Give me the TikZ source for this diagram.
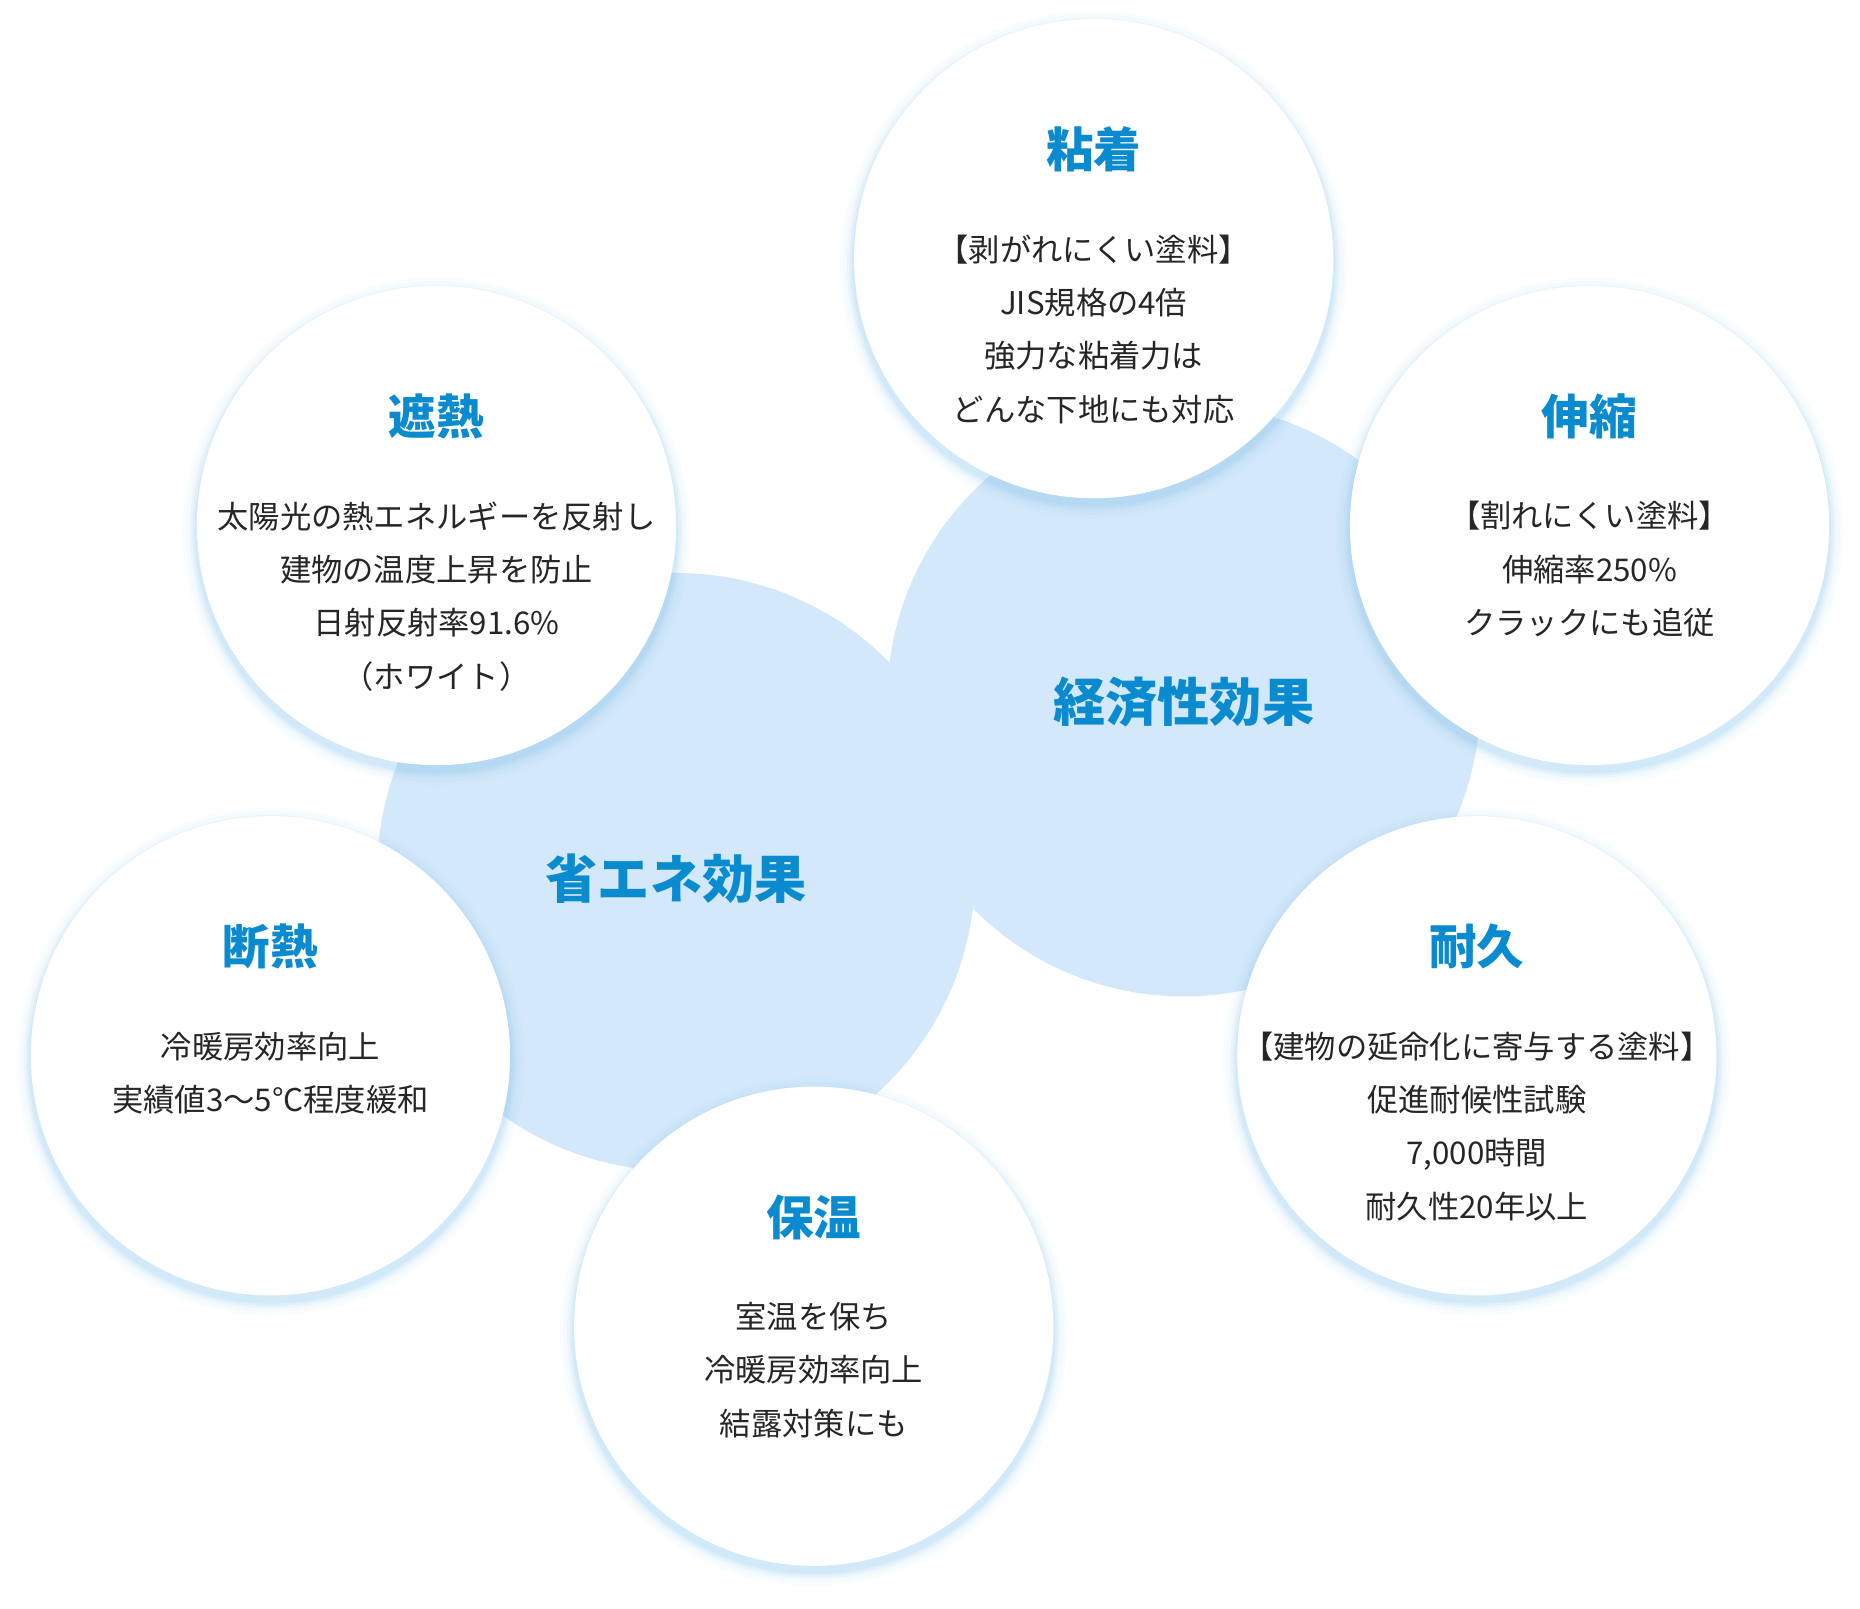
\documentclass[tikz,border=0pt]{standalone}
\usepackage{fontspec}
\setmainfont{Noto Sans CJK JP}
\usetikzlibrary{calc}
\definecolor{titleblue}{HTML}{0A8BD0}
\definecolor{bigfill}{HTML}{D3E8FA}
\definecolor{glowblue}{HTML}{8CC8EE}
\tikzset{
  bigcircle/.style={fill=bigfill, draw=none},
  featcircle/.style={fill=white, draw=none},
  titletext/.style={text=titleblue, font=\fontsize{11.4}{13}\selectfont\bfseries},
  bodytext/.style={text=black!85, align=center, inner sep=0pt, anchor=north,
    font=\fontsize{7.5}{12.8}\selectfont}
}
\newcommand{\featurecircle}[5]{%
  \coordinate (#1) at (#2,#3);
  \foreach \g/\o in {12/0.04,9/0.06,6/0.09,4/0.12,2/0.16}
    \fill[glowblue, opacity=\o] ($(#1)+(0,5)$) circle (202+\g);
  \fill[featcircle] (#1) circle (202);
  \node[titletext] (#1-title) at ($(#1)+(0,-92)$) {#4};
  \node[bodytext] (#1-body) at ($(#1)+(0,-21)$) {#5};
}
\begin{document}
\begin{tikzpicture}[x=0.01cm, y=-0.01cm]
  \useasboundingbox (0,0) rectangle (1568,1356);
  % two effect circles
  \fill[bigcircle] (570,735) circle (252);
  \fill[bigcircle] (998,590) circle (250);
  \node[titletext, font=\fontsize{12.5}{14}\selectfont\bfseries] (saving) at (570,741) {省エネ効果};
  \node[titletext, font=\fontsize{12.5}{14}\selectfont\bfseries] (economy) at (998,592) {経済性効果};
  % feature circles
  \featurecircle{adhesion}{922}{218}{粘着}{【剥がれにくい塗料】\\JIS規格の4倍\\強力な粘着力は\\どんな下地にも対応}
  \featurecircle{heatshield}{368}{443}{遮熱}{太陽光の熱エネルギーを反射し\\建物の温度上昇を防止\\日射反射率91.6\%\\（ホワイト）}
  \featurecircle{stretch}{1340}{443}{伸縮}{【割れにくい塗料】\\伸縮率250\%\\クラックにも追従}
  \featurecircle{insulation}{228}{890}{断熱}{冷暖房効率向上\\実績値3〜5°C程度緩和}
  \featurecircle{durable}{1245}{890}{耐久}{【建物の延命化に寄与する塗料】\\促進耐候性試験\\7,000時間\\耐久性20年以上}
  \featurecircle{warmth}{686}{1118}{保温}{室温を保ち\\冷暖房効率向上\\結露対策にも}
\end{tikzpicture}
\end{document}
